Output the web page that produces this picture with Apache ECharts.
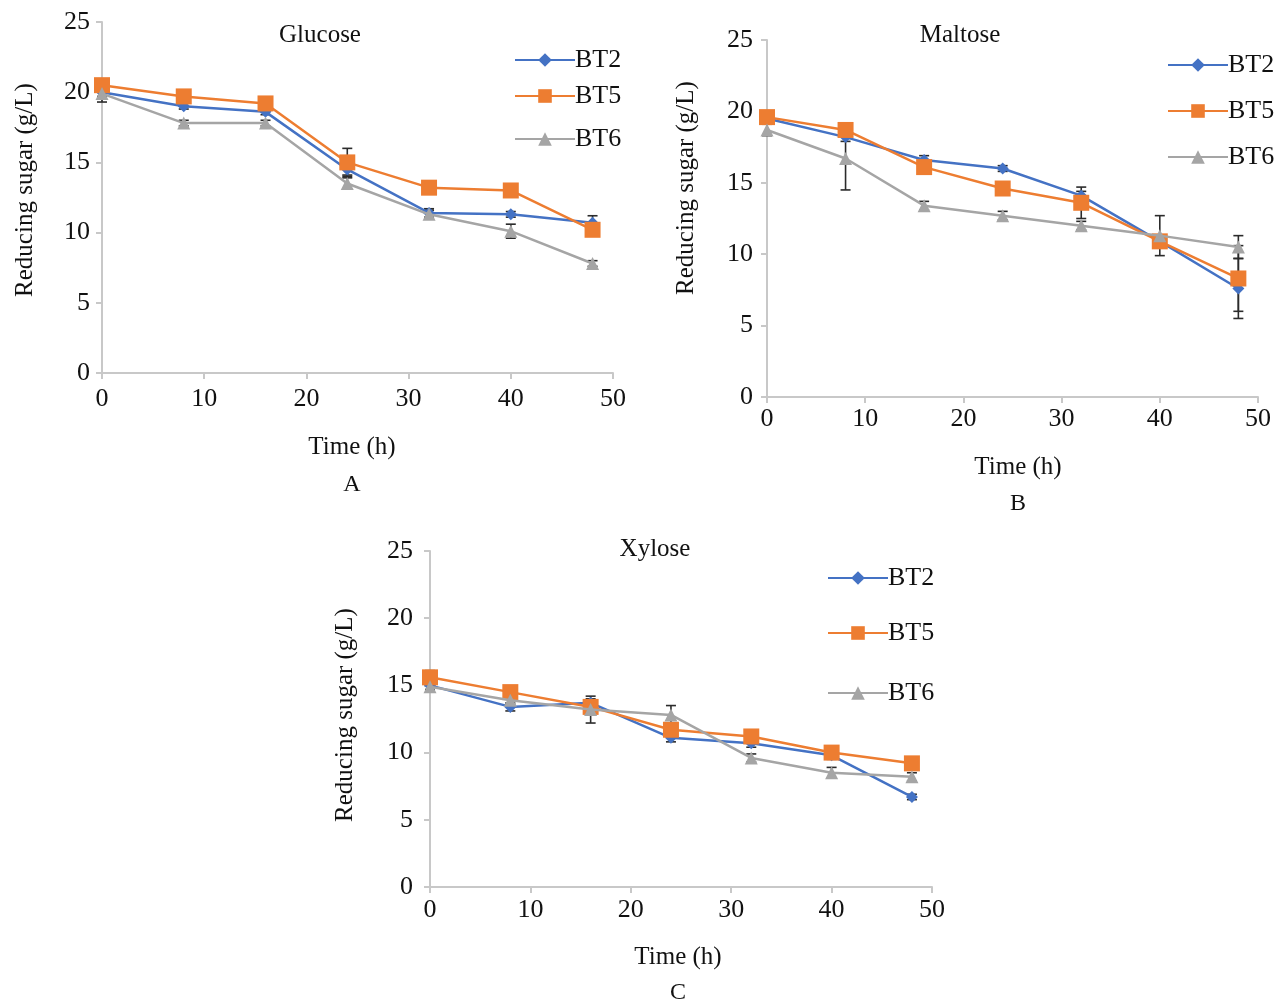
<!DOCTYPE html>
<html lang="en">
<head>
    <meta charset="UTF-8">
    <title>Reducing sugar</title>
    <script src="https://cdn.jsdelivr.net/npm/echarts@6/dist/echarts.min.js"></script>
    <style>
        html, body { margin: 0; padding: 0; background: #fff; }
        #main { width: 1276px; height: 1002px; }
    </style>
</head>
<body>
    <div id="main"></div>
    <script type="text/javascript">
        // 时间点 (h)
        var hours = [0, 8, 16, 24, 32, 40, 48];
        var xTicks = [0, 10, 20, 30, 40, 50];
        var yTicks = [0, 5, 10, 15, 20, 25];
        var strains = ['BT2', 'BT5', 'BT6'];

        // Glucose
        var glucoseBT2 = [20.0, 19.0, 18.6, 14.5, 11.4, 11.3, 10.7];
        var glucoseBT5 = [20.5, 19.7, 19.2, 15.0, 13.2, 13.0, 10.2];
        var glucoseBT6 = [19.9, 17.8, 17.8, 13.5, 11.3, 10.1, 7.8];
        var glucoseErrBT2 = [0.3, 0.2, 0.2, 0.4, 0.3, 0.2, 0.5];
        var glucoseErrBT5 = [0.2, 0.2, 0.2, 1.0, 0.2, 0.2, 0.3];
        var glucoseErrBT6 = [0.6, 0.2, 0.2, 0.4, 0.3, 0.5, 0.2];

        // Maltose
        var maltoseBT2 = [19.5, 18.2, 16.6, 16.0, 14.1, 10.9, 7.6];
        var maltoseBT5 = [19.6, 18.7, 16.1, 14.6, 13.6, 10.9, 8.3];
        var maltoseBT6 = [18.7, 16.7, 13.4, 12.7, 12.0, 11.3, 10.5];
        var maltoseErrBT2 = [0.2, 0.3, 0.3, 0.2, 0.3, 0.4, 2.1];
        var maltoseErrBT5 = [0.2, 0.4, 0.3, 0.2, 1.1, 0.4, 2.3];
        var maltoseErrBT6 = [0.4, 2.2, 0.3, 0.3, 0.3, 1.4, 0.8];

        // Xylose
        var xyloseBT2 = [15.0, 13.4, 13.7, 11.1, 10.7, 9.8, 6.7];
        var xyloseBT5 = [15.6, 14.5, 13.4, 11.7, 11.2, 10.0, 9.2];
        var xyloseBT6 = [14.9, 13.9, 13.2, 12.8, 9.6, 8.5, 8.2];
        var xyloseErrBT2 = [0.3, 0.3, 0.3, 0.3, 0.3, 0.3, 0.2];
        var xyloseErrBT5 = [0.5, 0.3, 0.3, 0.3, 0.3, 0.3, 0.3];
        var xyloseErrBT6 = [0.3, 0.3, 1.0, 0.7, 0.3, 0.4, 0.3];

        var FONT = '"Liberation Serif", serif';
        var colors = { BT2: '#4472C4', BT5: '#ED7D31', BT6: '#A5A5A5' };
        var symbols = { BT2: 'diamond', BT5: 'rect', BT6: 'triangle' };
        var symbolSizes = { BT2: 12, BT5: 16, BT6: 13 };

        // 每个小图的数据
        var panels = [
            { title: 'Glucose', letter: 'A', values: [glucoseBT2, glucoseBT5, glucoseBT6], errs: [glucoseErrBT2, glucoseErrBT5, glucoseErrBT6] },
            { title: 'Maltose', letter: 'B', values: [maltoseBT2, maltoseBT5, maltoseBT6], errs: [maltoseErrBT2, maltoseErrBT5, maltoseErrBT6] },
            { title: 'Xylose', letter: 'C', values: [xyloseBT2, xyloseBT5, xyloseBT6], errs: [xyloseErrBT2, xyloseErrBT5, xyloseErrBT6] }
        ];

        // 版面位置
        var layout = [
            { grid: { left: 102, top: 22, width: 511, height: 351 }, yMargin: 12, xMargin: 13,
              titlePos: [320, 35], yName: [25, 190], xName: [352, 447], letterPos: [352, 485],
              legendLeft: 514, legendY: [60, 96, 139] },
            { grid: { left: 767, top: 40, width: 491, height: 357 }, yMargin: 14, xMargin: 9,
              titlePos: [960, 35], yName: [686, 188], xName: [1018, 467], letterPos: [1018, 504],
              legendLeft: 1167, legendY: [65, 111, 157] },
            { grid: { left: 430, top: 551, width: 502, height: 336 }, yMargin: 17, xMargin: 10,
              titlePos: [655, 549], yName: [345, 715], xName: [678, 957], letterPos: [678, 993],
              legendLeft: 827, legendY: [578, 633, 693] }
        ];

        function pairs(xs, ys) {
            return xs.map(function (x, i) { return [x, ys[i]]; });
        }

        function errRows(xs, ys, es) {
            return xs.map(function (x, i) { return [x, ys[i] - es[i], ys[i] + es[i]]; });
        }

        // 误差棒
        function renderErr(params, api) {
            var x = api.value(0);
            var top = api.coord([x, api.value(2)]);
            var bot = api.coord([x, api.value(1)]);
            var w = 5;
            var st = { stroke: '#2b2b2b', lineWidth: 1.6 };
            return {
                type: 'group',
                children: [
                    { type: 'line', shape: { x1: top[0], y1: top[1], x2: bot[0], y2: bot[1] }, style: st },
                    { type: 'line', shape: { x1: top[0] - w, y1: top[1], x2: top[0] + w, y2: top[1] }, style: st },
                    { type: 'line', shape: { x1: bot[0] - w, y1: bot[1], x2: bot[0] + w, y2: bot[1] }, style: st }
                ]
            };
        }

        function text(str, pos, size, rotate) {
            return {
                type: 'text',
                x: pos[0],
                y: pos[1],
                rotation: rotate ? Math.PI / 2 : 0,
                style: {
                    text: str,
                    fill: '#111',
                    font: size + 'px ' + FONT,
                    textAlign: 'center',
                    textVerticalAlign: 'middle',
                    align: 'center',
                    verticalAlign: 'middle'
                }
            };
        }

        var grids = [], xAxes = [], yAxes = [], series = [], legends = [], graphics = [];
        var axisLine = { show: true, lineStyle: { color: '#c8c8c8', width: 2 } };
        var axisTick = { show: true, length: 6, lineStyle: { color: '#c8c8c8', width: 2 } };

        panels.forEach(function (p, k) {
            var L = layout[k];
            grids.push(L.grid);
            xAxes.push({
                gridIndex: k, type: 'value', min: xTicks[0], max: xTicks[xTicks.length - 1], interval: 10,
                axisLine: axisLine, axisTick: axisTick, splitLine: { show: false },
                axisLabel: { margin: L.xMargin, color: '#111', fontFamily: FONT, fontSize: 26 }
            });
            yAxes.push({
                gridIndex: k, type: 'value', min: yTicks[0], max: yTicks[yTicks.length - 1], interval: 5,
                axisLine: axisLine, axisTick: axisTick, splitLine: { show: false },
                axisLabel: { margin: L.yMargin, color: '#111', fontFamily: FONT, fontSize: 26 }
            });
            // 误差棒放在折线下面，小误差被标记遮住
            [2, 0, 1].forEach(function (j) {
                series.push({
                    name: strains[j] + ' err', type: 'custom', xAxisIndex: k, yAxisIndex: k,
                    renderItem: renderErr, data: errRows(hours, p.values[j], p.errs[j]),
                    z: 1, silent: true
                });
            });
            // 先画BT6，再画BT2，最后BT5
            [2, 0, 1].forEach(function (j) {
                var name = strains[j];
                series.push({
                    name: name, type: 'line', xAxisIndex: k, yAxisIndex: k,
                    data: pairs(hours, p.values[j]),
                    symbol: symbols[name], symbolSize: symbolSizes[name],
                    lineStyle: { color: colors[name], width: 2.5 },
                    itemStyle: { color: colors[name] },
                    z: 2 + j
                });
            });
            strains.forEach(function (name, j) {
                legends.push({
                    data: [name], left: L.legendLeft, top: L.legendY[j] - 13,
                    itemWidth: 60, itemHeight: 17, padding: 0,
                    textStyle: { color: '#111', fontFamily: FONT, fontSize: 26, padding: [0, 0, 0, -5] }
                });
            });
            graphics.push(text(p.title, L.titlePos, 25));
            graphics.push(text('Reducing sugar (g/L)', L.yName, 25, true));
            graphics.push(text('Time (h)', L.xName, 25));
            graphics.push(text(p.letter, L.letterPos, 24));
        });

        var option = {
            animation: false,
            backgroundColor: '#fff',
            grid: grids,
            xAxis: xAxes,
            yAxis: yAxes,
            legend: legends,
            graphic: graphics,
            series: series
        };

        var myChart = echarts.init(document.getElementById('main'));
        myChart.setOption(option);
    </script>
</body>
</html>
